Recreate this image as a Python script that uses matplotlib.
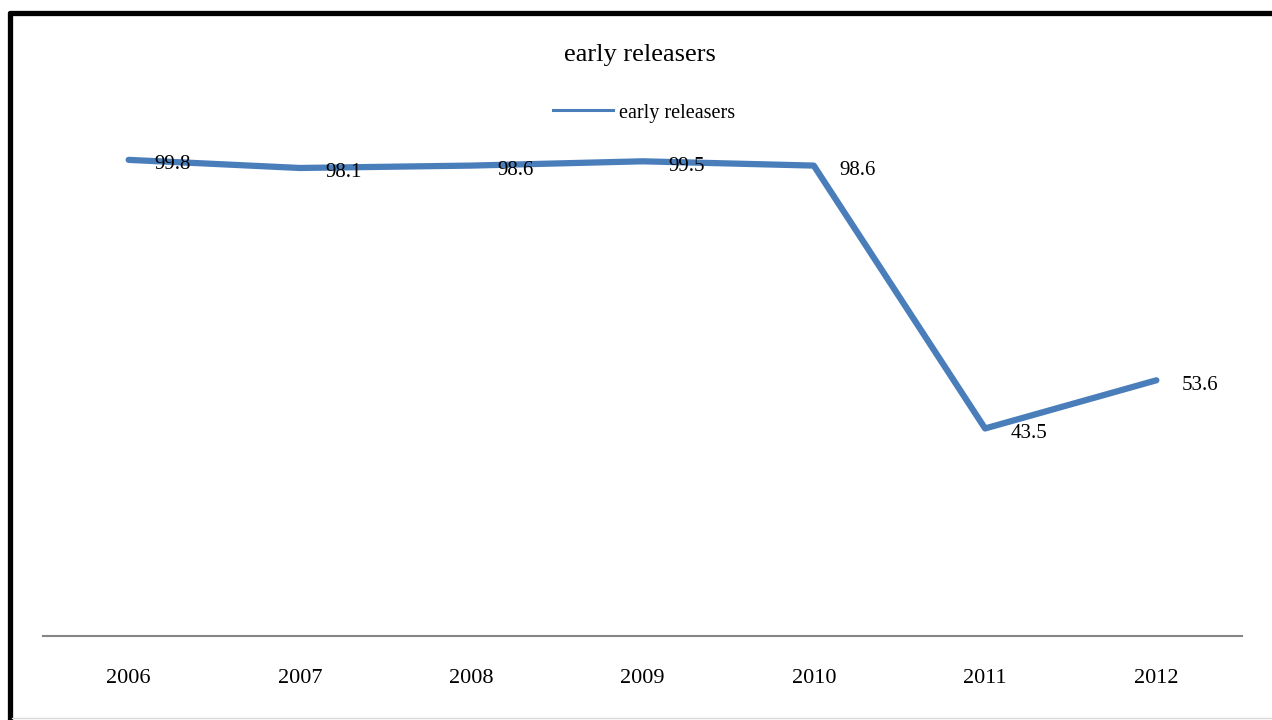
import matplotlib
matplotlib.use("Agg")
import matplotlib.pyplot as plt
from matplotlib.lines import Line2D

plt.rcParams['font.family'] = ['Liberation Serif', 'DejaVu Serif']

# datos
years = ["2006", "2007", "2008", "2009", "2010", "2011", "2012"]
values = [99.8, 98.1, 98.6, 99.5, 98.6, 43.5, 53.6]
series_name = "early releasers"

W, H = 1272, 720
fig = plt.figure(figsize=(W / 100, H / 100), dpi=100)
ax = fig.add_axes([43 / W, 1 - 636 / H, (1242 - 43) / W, (636 - 63.5) / H])

x = list(range(len(years)))
ax.plot(x, values, color="#4A7EBB", linewidth=4.5, solid_capstyle="round",
        solid_joinstyle="round", label=series_name)

# etiquetas de datos a la derecha de cada punto
for xi, v in zip(x, values):
    ax.annotate(f"{v}", (xi, v), xytext=(18.5, -3.5), textcoords="offset points",
                ha="left", va="center", fontsize=15, color="black")

ax.set_xlim(-0.5, len(years) - 0.5)
ax.set_ylim(0, 120)
ax.set_xticks(x)
ax.set_xticklabels(years, fontsize=16)
ax.tick_params(axis="x", length=0, pad=24)
ax.set_yticks([])
for s in ["top", "right", "left"]:
    ax.spines[s].set_visible(False)
ax.spines["bottom"].set_color("#868686")
ax.spines["bottom"].set_linewidth(1.5)
ax.patch.set_alpha(0)

fig.text(640 / W, 1 - 55 / H, series_name, ha="center", va="center", fontsize=19)
leg_handle = Line2D([], [], color="#4A7EBB", linewidth=2.2)
fig.legend([leg_handle], [series_name], loc="center", bbox_to_anchor=(644 / W, 1 - 113 / H),
           frameon=False, fontsize=14.5, handlelength=3.0, handletextpad=0.3)

# marco negro (arriba e izquierda) y linea gris inferior
fig.add_artist(Line2D([9.5 / W, 9.5 / W], [0, 1 - 12.5 / H], transform=fig.transFigure,
                      color="black", linewidth=3.8, solid_capstyle="round"))
fig.add_artist(Line2D([9.5 / W, 1.0], [1 - 12.5 / H, 1 - 12.5 / H], transform=fig.transFigure,
                      color="black", linewidth=3.8, solid_capstyle="round"))
fig.add_artist(Line2D([12 / W, 1.0], [1 - 718 / H, 1 - 718 / H], transform=fig.transFigure,
                      color="#d9d9d9", linewidth=1.0))

fig.savefig("out.png", dpi=100)
